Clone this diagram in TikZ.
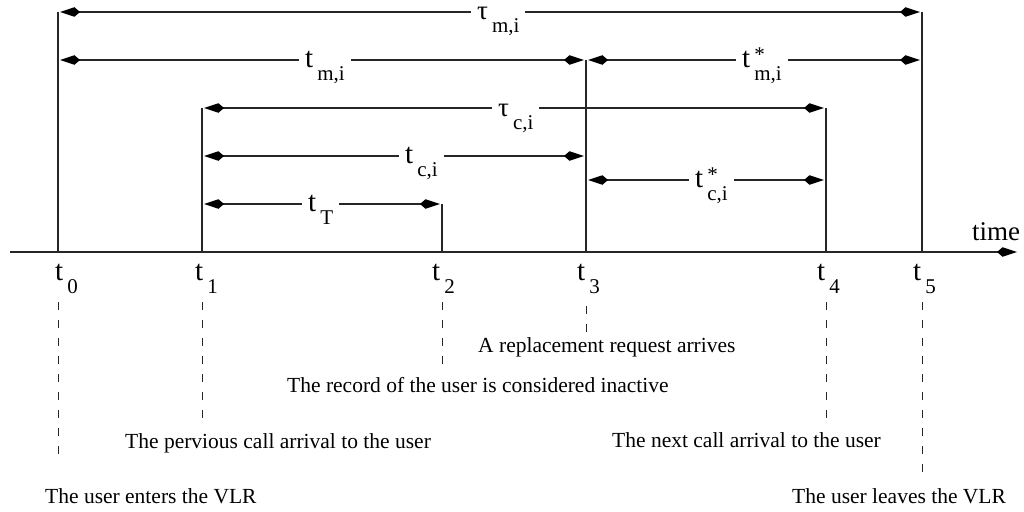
\documentclass[tikz,border=0pt]{standalone}
\usepackage{fontspec}
\setmainfont{Liberation Serif}
\usetikzlibrary{arrows.meta}

% quantity label: symbol with a lowered subscript
\newcommand{\qlab}[2]{{\fontsize{29}{29}\selectfont #1}\hspace{4pt}\raisebox{-13pt}{\fontsize{21}{21}\selectfont #2}}
% same, with an asterisk above the subscript
\newcommand{\qlabs}[2]{{\fontsize{29}{29}\selectfont #1}\hspace{4pt}\raisebox{-13pt}{\fontsize{21}{21}\selectfont\rlap{\raisebox{19pt}{\hspace{0pt}*}}#2}}
% Greek symbol, set a little smaller than the Latin letters
\newcommand{\gsym}[1]{\fontsize{27}{27}\selectfont #1}

\tikzset{
  tipk/.tip={Kite[length=20pt,width=9.5pt,inset=5.5pt,fill=black,color=black]},
  dim/.style={line width=1.2pt, draw=black!85, tipk-tipk, shorten <=2pt, shorten >=2pt},
  mark line/.style={line width=1.2pt, draw=black!85},
  axis/.style={line width=1.2pt, draw=black!85, -tipk},
  guide/.style={line width=1pt, draw=black!85, dash pattern=on 8pt off 10pt},
  qty/.style={fill=white, inner xsep=6pt, inner ysep=0pt, anchor=base west},
  tick/.style={inner sep=0pt, anchor=base west},
  note/.style={inner sep=0pt, anchor=base west, font=\fontsize{21.5}{24}\selectfont},
}

\begin{document}
\begin{tikzpicture}[x=1pt, y=-1pt]
\useasboundingbox (0,0) rectangle (1024,511);

% instants on the time axis
\coordinate (T0) at (58,252);
\coordinate (T1) at (202,252);
\coordinate (T2) at (442,252);
\coordinate (T3) at (586,252);
\coordinate (T4) at (826,252);
\coordinate (T5) at (922,252);

% levels of the interval arrows
\coordinate (r1) at (0,12);
\coordinate (r2) at (0,60);
\coordinate (r3) at (0,108);
\coordinate (r4) at (0,156);
\coordinate (r5) at (0,180);
\coordinate (r6) at (0,204);
\coordinate (gtop) at (0,302);
\coordinate (gtop3) at (0,306);

% time axis
\coordinate (axs) at (10,252);
\coordinate (axe) at (1017,252);
\draw[axis] (axs) -- (axe);
\node[tick, font=\fontsize{27}{27}\selectfont] (time) at (972,240) {time};

% vertical markers
\draw[mark line] (T0 |- r1) -- (T0);
\draw[mark line] (T5 |- r1) -- (T5);
\draw[mark line] (T3 |- r2) -- (T3);
\draw[mark line] (T1 |- r3) -- (T1);
\draw[mark line] (T4 |- r3) -- (T4);
\draw[mark line] (T2 |- r6) -- (T2);

% intervals
\draw[dim] (T0 |- r1) -- (T5 |- r1);
\draw[dim] (T0 |- r2) -- (T3 |- r2);
\draw[dim] (T3 |- r2) -- (T5 |- r2);
\draw[dim] (T1 |- r3) -- (T4 |- r3);
\draw[dim] (T1 |- r4) -- (T3 |- r4);
\draw[dim] (T3 |- r5) -- (T4 |- r5);
\draw[dim] (T1 |- r6) -- (T2 |- r6);

% interval labels
\node[qty] (taum) at (471,20)  {\qlab{\gsym{τ}}{m,i}};
\node[qty] (tm)   at (299,67)  {\qlab{t}{m,i}};
\node[qty] (tms)  at (736,67)  {\qlabs{t}{m,i}};
\node[qty] (tauc) at (492,116) {\qlab{\gsym{τ}}{c,i}};
\node[qty] (tc)   at (399,163) {\qlab{t}{c,i}};
\node[qty] (tcs)  at (689,187) {\qlabs{t}{c,i}};
\node[qty] (tT)   at (302,211) {\qlab{t}{T}};

% instant labels
\node[tick] (l0) at (55,280)  {\qlab{t}{0}};
\node[tick] (l1) at (195,280) {\qlab{t}{1}};
\node[tick] (l2) at (432,280) {\qlab{t}{2}};
\node[tick] (l3) at (577,280) {\qlab{t}{3}};
\node[tick] (l4) at (817,280) {\qlab{t}{4}};
\node[tick] (l5) at (913,280) {\qlab{t}{5}};

% dashed guides down to the event descriptions
\coordinate (g0) at (58,462);
\coordinate (g1) at (202,418);
\coordinate (g2) at (442,372);
\coordinate (g3) at (586,333);
\coordinate (g4) at (826,420);
\coordinate (g5) at (922,472);
\draw[guide] (T0 |- gtop) -- (g0);
\draw[guide] (T1 |- gtop) -- (g1);
\draw[guide] (T2 |- gtop) -- (g2);
\draw[guide] (T3 |- gtop3) -- (g3);
\draw[guide] (T4 |- gtop) -- (g4);
\draw[guide] (T5 |- gtop) -- (g5);

% event descriptions
\node[note] (e3) at (478,352) {A replacement request arrives};
\node[note] (e2) at (287,392) {The record of the user is considered inactive};
\node[note] (e1) at (125,448) {The pervious call arrival to the user};
\node[note] (e4) at (612,447) {The next call arrival to the user};
\node[note] (e0) at (45,503)  {The user enters the VLR};
\node[note] (e5) at (792,503) {The user leaves the VLR};
\end{tikzpicture}
\end{document}
